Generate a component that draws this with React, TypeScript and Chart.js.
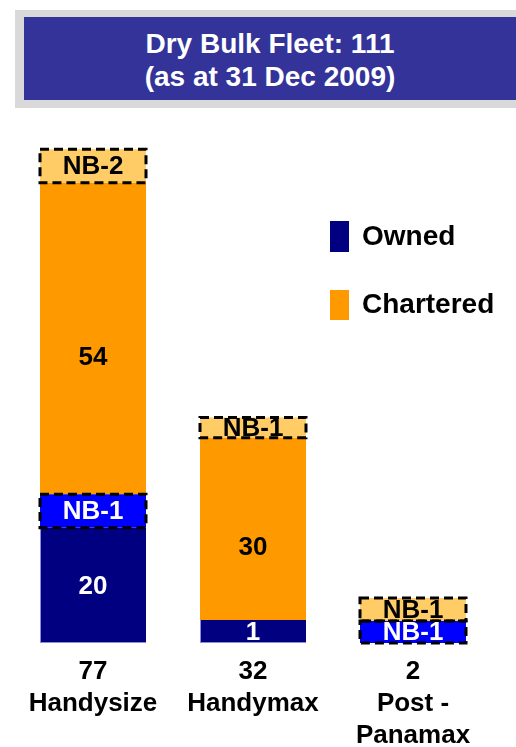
import React, { useEffect, useRef } from "react";
import { Chart, registerables } from "chart.js";

Chart.register(...registerables);

// Categories and their fleet totals
const categories = ["Handysize", "Handymax", "Post - Panamax"];
const categoryTotals = ["77", "32", "2"];
const categoryLines = [["77", "Handysize"], ["32", "Handymax"], ["2", "Post -", "Panamax"]];

// Segment heights as drawn in the picture (the original is not to scale)
const ownedHeights = [20, 4.0, 0];
const nbOwnedHeights = [5.8, 0, 3.8];
const charteredHeights = [54, 31.6, 0];
const nbCharteredHeights = [5.8, 3.5, 4.0];

// Segment labels
const ownedLabels = ["20", "1", ""];
const nbOwnedLabels = ["NB-1", "", "NB-1"];
const charteredLabels = ["54", "30", ""];
const nbCharteredLabels = ["NB-2", "NB-1", "NB-1"];

const FONT = "'Liberation Sans', Arial, sans-serif";

const overlayPlugin = {
  id: "overlay",
  afterDatasetsDraw(chart: any) {
    const ctx = chart.ctx;
    // dashed outlines
    chart.data.datasets.forEach((ds: any, di: number) => {
      if (!ds.dashed) return;
      const meta = chart.getDatasetMeta(di);
      meta.data.forEach((el: any, i: number) => {
        if (!ds.data[i]) return;
        const { x, y, base, width } = el.getProps(["x", "y", "base", "width"], true);
        ctx.save();
        ctx.strokeStyle = "#000";
        ctx.lineWidth = 3;
        ctx.setLineDash([9, 5]);
        ctx.strokeRect(x - width / 2, y, width, base - y);
        ctx.restore();
      });
    });
    // segment labels
    chart.data.datasets.forEach((ds: any, di: number) => {
      const meta = chart.getDatasetMeta(di);
      meta.data.forEach((el: any, i: number) => {
        const txt = ds.segLabels[i];
        if (!txt) return;
        const { x, y, base } = el.getProps(["x", "y", "base"], true);
        ctx.save();
        ctx.font = `bold 26px ${FONT}`;
        ctx.fillStyle = ds.labelColor[i];
        ctx.textAlign = "center";
        ctx.textBaseline = "middle";
        ctx.fillText(txt, x, (y + base) / 2 + (ds.labelShift || 0) + 1);
        ctx.restore();
      });
    });
    // category labels
    const xs = chart.scales.x;
    ctx.save();
    ctx.font = `bold 26px ${FONT}`;
    ctx.fillStyle = "#000";
    ctx.textAlign = "center";
    ctx.textBaseline = "middle";
    categoryLines.forEach((lines, i) => {
      const cx = xs.getPixelForValue(i);
      lines.forEach((l, j) => ctx.fillText(l, cx, 672 + j * 32));
    });
    ctx.restore();
  },
};

export default function App() {
  const ref = useRef<HTMLCanvasElement>(null);
  useEffect(() => {
    if (!ref.current) return;
    const chart = new Chart(ref.current, {
      type: "bar",
      data: {
        labels: categories.map((c, i) => `${categoryTotals[i]} ${c}`),
        datasets: [
          {
            label: "Owned",
            data: ownedHeights,
            backgroundColor: "#000080",
            borderColor: "#8c8cd9",
            borderWidth: { left: 1, bottom: 1, top: 0, right: 0 },
            borderSkipped: false,
            segLabels: ownedLabels,
            labelColor: ["#fff", "#fff", "#fff"],
          } as any,
          {
            label: "Owned NB",
            data: nbOwnedHeights,
            backgroundColor: "#0000FF",
            dashed: true,
            segLabels: nbOwnedLabels,
            labelColor: ["#fff", "#fff", "#fff"],
          } as any,
          {
            label: "Chartered",
            data: charteredHeights,
            backgroundColor: "#FF9900",
            segLabels: charteredLabels,
            labelColor: ["#000", "#000", "#000"],
            labelShift: 18,
          } as any,
          {
            label: "Chartered NB",
            data: nbCharteredHeights,
            backgroundColor: "#FFCC66",
            dashed: true,
            segLabels: nbCharteredLabels,
            labelColor: ["#000", "#000", "#000"],
          } as any,
        ],
      },
      options: {
        responsive: false,
        animation: false,
        devicePixelRatio: 1,
        layout: { padding: { left: 13, right: 23, top: 124, bottom: 104 } },
        datasets: { bar: { barPercentage: 0.6625, categoryPercentage: 1 } },
        scales: {
          x: { stacked: true, display: false },
          y: { stacked: true, display: false, min: 0, max: 90 },
        },
        plugins: { legend: { display: false }, tooltip: { enabled: false } },
      },
      plugins: [overlayPlugin],
    });
    return () => chart.destroy();
  }, []);

  const legendText: React.CSSProperties = {
    position: "absolute",
    left: 362,
    font: `bold 28px ${FONT}`,
    color: "#000",
    lineHeight: "32px",
  };

  return (
    <div style={{ position: "absolute", left: 0, top: 0, width: 516, height: 747, overflow: "hidden", background: "#fff" }}>
      <div style={{ position: "absolute", left: 15, top: 10, width: 501, height: 98, background: "#d9d9d9" }} />
      <div
        style={{
          position: "absolute",
          left: 24,
          top: 17,
          width: 492,
          height: 83,
          background: "#333399",
          color: "#fff",
          font: `bold 28px ${FONT}`,
          textAlign: "center",
          lineHeight: "33px",
          paddingTop: 10,
          boxSizing: "border-box",
        }}
      >
        <div>Dry Bulk Fleet: 111</div>
        <div>(as at 31 Dec 2009)</div>
      </div>
      <canvas ref={ref} width={516} height={747} style={{ position: "absolute", left: 0, top: 0 }} />
      <div style={{ position: "absolute", left: 330, top: 221, width: 19, height: 31, background: "#000080" }} />
      <div style={{ ...legendText, top: 220 }}>Owned</div>
      <div style={{ position: "absolute", left: 330, top: 290, width: 19, height: 30, background: "#FF9900" }} />
      <div style={{ ...legendText, top: 288 }}>Chartered</div>
    </div>
  );
}
